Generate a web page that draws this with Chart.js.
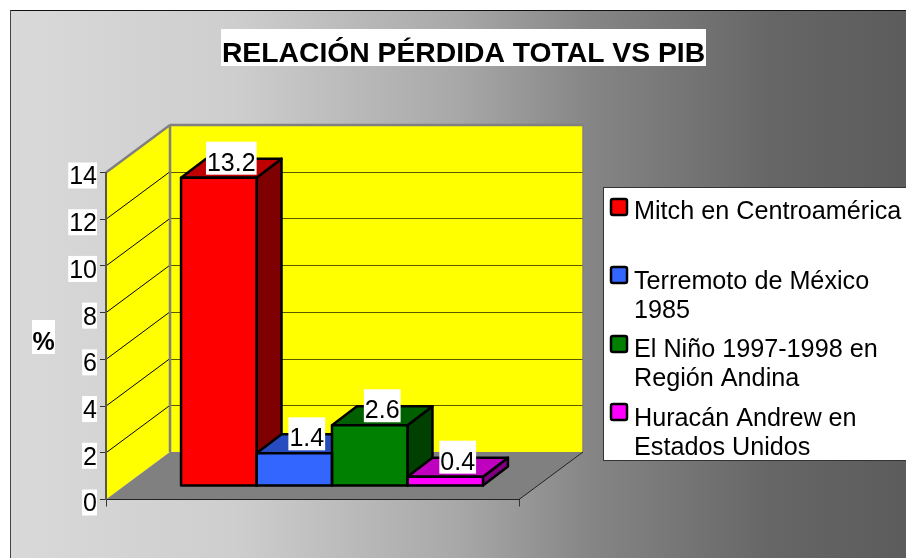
<!DOCTYPE html>
<html>
<head>
<meta charset="utf-8">
<title>Relación pérdida total vs PIB</title>
<script src="https://cdn.jsdelivr.net/npm/chart.js@4"></script>
<style>
html,body{margin:0;padding:0;background:#fff;}
canvas{display:block;}
</style>
</head>
<body>
<canvas id="lossChart" width="906" height="558"></canvas>
<script>
const titleText = 'RELACIÓN PÉRDIDA TOTAL VS PIB';
const axisTitle = '%';
const groupLabels = [''];
const categories = [
    ['Mitch en Centroamérica'],
    ['Terremoto de México', '1985'],
    ['El Niño 1997-1998 en', 'Región Andina'],
    ['Huracán Andrew en', 'Estados Unidos']
];
const values = [13.2, 1.4, 2.6, 0.4];
const faceColors = ['#ff0000', '#3366ff', '#008000', '#ff00ff'];
const topColors = ['#bf0000', '#264cbf', '#006000', '#bf00bf'];
const sideColors = ['#7f0000', '#1a3380', '#004000', '#7f007f'];
const legendBaselines = [219, 289, 357, 426];
const legendSwatchTops = [199, 267, 336, 404];

const FONT = '"Liberation Sans", Arial, sans-serif';
const wallDx = 64, wallDy = -47.5;   // front plane to back wall
const barDx = 19.5, barDy = -13.5;   // front plane to front of the bars
const depthDx = 25, depthDy = -19;   // bar depth

function poly(ctx, pts, fill, stroke, lw){
    ctx.beginPath();
    pts.forEach((p, i) => i ? ctx.lineTo(p[0], p[1]) : ctx.moveTo(p[0], p[1]));
    ctx.closePath();
    if(fill){ ctx.fillStyle = fill; ctx.fill(); }
    if(stroke){ ctx.strokeStyle = stroke; ctx.lineWidth = lw; ctx.lineJoin = 'round'; ctx.stroke(); }
}
function line(ctx, x1, y1, x2, y2, color, lw){
    ctx.beginPath();
    ctx.moveTo(x1, y1);
    ctx.lineTo(x2, y2);
    ctx.strokeStyle = color;
    ctx.lineWidth = lw;
    ctx.stroke();
}
function barOf(chart, i){
    return chart.getDatasetMeta(i).data[0];
}

const scenePlugin = {
    id: 'scene',
    beforeDraw(chart){
        const ctx = chart.ctx, W = chart.width, H = chart.height;
        const a = chart.chartArea, y = chart.scales.y;
        ctx.save();
        // background
        let g = ctx.createLinearGradient(10, 0, W, 0);
        g.addColorStop(0, '#d9d9d9');
        g.addColorStop(0.25, '#cecece');
        g.addColorStop(0.5, '#a8a8a8');
        g.addColorStop(0.65, '#858585');
        g.addColorStop(0.85, '#666666');
        g.addColorStop(1, '#5c5c5c');
        ctx.fillStyle = g;
        ctx.fillRect(10, 10, W - 10, H - 10);
        line(ctx, 10, 10.5, W, 10.5, '#111', 1);
        line(ctx, 10.5, 10, 10.5, H, '#444', 1);

        // title
        ctx.font = 'bold 28.3px ' + FONT;
        ctx.fillStyle = '#fff';
        ctx.fillRect(221, 29, 485, 37);
        ctx.fillStyle = '#000';
        ctx.textAlign = 'center';
        ctx.textBaseline = 'alphabetic';
        ctx.fillText(titleText, 463.5, 62);

        // axis title
        ctx.font = 'bold 25px ' + FONT;
        ctx.fillStyle = '#fff';
        ctx.fillRect(32, 320, 23, 34);
        ctx.fillStyle = '#000';
        ctx.fillText(axisTitle, 43.5, 350);

        // back wall, side wall, floor
        poly(ctx, [[a.left + wallDx, a.top + wallDy], [a.right + wallDx, a.top + wallDy], [a.right + wallDx, a.bottom + wallDy], [a.left + wallDx, a.bottom + wallDy]], '#ffff00');
        poly(ctx, [[a.left, a.top], [a.left + wallDx, a.top + wallDy], [a.left + wallDx, a.bottom + wallDy], [a.left, a.bottom]], '#ffff00');
        poly(ctx, [[a.left, a.bottom], [a.left + wallDx, a.bottom + wallDy], [a.right + wallDx, a.bottom + wallDy], [a.right, a.bottom]], '#808080');

        // grid on the walls, at the y scale's ticks
        y.ticks.forEach((t, i) => {
            if(t.value == 0 || t.value == y.max) return;
            const py = y.getPixelForTick(i);
            line(ctx, a.left, py, a.left + wallDx, py + wallDy, '#000', 1);
            line(ctx, a.left + wallDx, Math.round(py + wallDy) + 0.5, a.right + wallDx, Math.round(py + wallDy) + 0.5, '#5a5a00', 1);
        });

        // wall edges
        line(ctx, a.left + wallDx, a.top + wallDy, a.right + wallDx, a.top + wallDy, '#808080', 2.5);
        line(ctx, a.left + wallDx, a.top + wallDy, a.left + wallDx, a.bottom + wallDy, '#808080', 2.5);
        line(ctx, a.right + wallDx, a.top + wallDy, a.right + wallDx, a.bottom + wallDy, '#808080', 1.5);
        line(ctx, a.left, a.top, a.left + wallDx, a.top + wallDy, '#808080', 2.5);
        line(ctx, a.right, a.bottom, a.right + wallDx, a.bottom + wallDy, '#222', 1);

        // white boxes behind the y tick labels
        ctx.font = '25px ' + FONT;
        y.ticks.forEach((t, i) => {
            const w = ctx.measureText(t.label).width + 1;
            ctx.fillStyle = '#fff';
            ctx.fillRect(97 - w, y.getPixelForTick(i) + 3 - 13, w, 26);
        });

        // legend
        ctx.font = '25.2px ' + FONT;
        ctx.fillStyle = '#fff';
        ctx.fillRect(603, 187, W - 603, 274);
        line(ctx, 603, 187.5, W, 187.5, '#333', 1);
        line(ctx, 603, 460.5, W, 460.5, '#333', 1);
        line(ctx, 603.5, 187, 603.5, 461, '#333', 1);
        ctx.textAlign = 'left';
        categories.forEach((lines, i) => {
            ctx.beginPath();
            ctx.roundRect(611, legendSwatchTops[i], 16, 16, 2);
            ctx.fillStyle = faceColors[i];
            ctx.fill();
            ctx.strokeStyle = '#000';
            ctx.lineWidth = 2.5;
            ctx.stroke();
            ctx.fillStyle = '#000';
            lines.forEach((s, j) => ctx.fillText(s, 634, legendBaselines[i] + j * 29));
        });
        ctx.restore();
    },
    beforeDatasetsDraw(chart){
        const ctx = chart.ctx;
        ctx.save();
        ctx.translate(barDx, barDy);
        // top and side of each bar, left to right
        values.forEach((v, i) => {
            const b = barOf(chart, i);
            const l = b.x - b.width / 2, r = b.x + b.width / 2;
            poly(ctx, [[r, b.y], [r + depthDx, b.y + depthDy], [r + depthDx, b.base + depthDy], [r, b.base]], sideColors[i], '#000', 2.5);
            poly(ctx, [[l, b.y], [l + depthDx, b.y + depthDy], [r + depthDx, b.y + depthDy], [r, b.y]], topColors[i], '#000', 2.5);
        });
    },
    afterDatasetsDraw(chart){
        const ctx = chart.ctx;
        // outlines of the front faces, then back to the plain transform
        values.forEach((v, i) => {
            const b = barOf(chart, i);
            ctx.strokeStyle = '#000';
            ctx.lineWidth = 2.5;
            ctx.lineJoin = 'round';
            ctx.strokeRect(b.x - b.width / 2, b.y, b.width, b.base - b.y);
        });
        ctx.restore();
        // value labels
        ctx.save();
        ctx.font = '25px ' + FONT;
        ctx.textAlign = 'center';
        ctx.textBaseline = 'alphabetic';
        values.forEach((v, i) => {
            const b = barOf(chart, i);
            const cx = b.x + barDx + depthDx / 2;
            const top = b.y + barDy;
            const s = String(v);
            const w = ctx.measureText(s).width + 2;
            ctx.fillStyle = '#fff';
            ctx.fillRect(cx - w / 2, top - 36, w, 33);
            ctx.fillStyle = '#000';
            ctx.fillText(s, cx, top - 7);
        });
        ctx.restore();
    }
};

new Chart(document.getElementById('lossChart').getContext('2d'), {
    type: 'bar',
    data: {
        labels: groupLabels,
        datasets: categories.map((lines, i) => ({
            label: lines.join(' '),
            data: [values[i]],
            backgroundColor: faceColors[i],
            borderWidth: 0
        }))
    },
    options: {
        responsive: false,
        animation: false,
        layout: { padding: { left: 40, top: 172.5, right: 387, bottom: 51.5 } },
        datasets: { bar: { categoryPercentage: 0.731, barPercentage: 1, clip: false } },
        plugins: { legend: { display: false }, title: { display: false }, tooltip: { enabled: false } },
        scales: {
            x: {
                afterFit(s){ s.height = 7; },
                grid: { drawOnChartArea: false, color: '#333', tickLength: 7 },
                border: { color: '#222', width: 1 },
                ticks: { display: false }
            },
            y: {
                min: 0,
                max: 14,
                afterFit(s){ s.width = 66; },
                grid: { drawOnChartArea: false, color: '#333', tickLength: 6 },
                border: { color: '#555', width: 2 },
                ticks: {
                    stepSize: 2,
                    color: '#000',
                    padding: 3,
                    labelOffset: 5,
                    font: { family: FONT, size: 25 }
                }
            }
        }
    },
    plugins: [scenePlugin]
});
</script>
</body>
</html>
